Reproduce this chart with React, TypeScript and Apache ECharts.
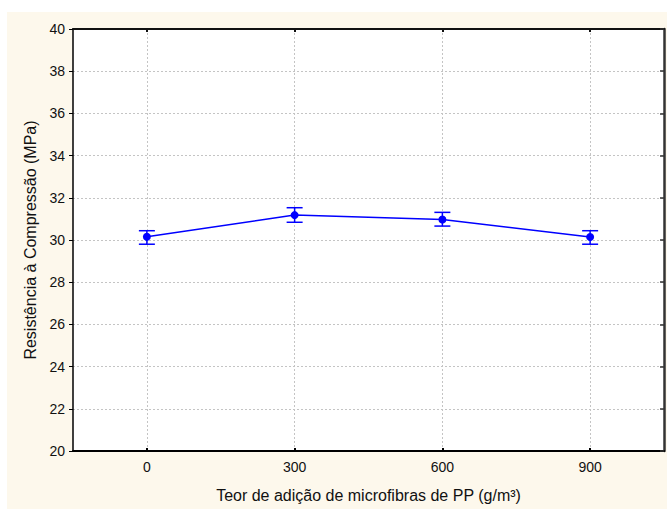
import React, { useEffect, useRef } from "react";
import * as echarts from "echarts";

const fiberContent = [0, 300, 600, 900];
const meanStrength = [30.15, 31.18, 30.97, 30.14];
const lowerBound = [29.8, 30.84, 30.66, 29.8];
const upperBound = [30.44, 31.53, 31.31, 30.44];

const xTitle = "Teor de adição de microfibras de PP (g/m³)";
const yTitle = "Resistência à Compressão (MPa)";

const FONT = "'Liberation Sans', Arial, sans-serif";
const BLUE = "#0000ff";

export default function App() {
  const ref = useRef<HTMLDivElement>(null);
  useEffect(() => {
    if (!ref.current) return;
    const chart = echarts.init(ref.current, undefined, { renderer: "svg" });
    const gridStyle = { show: true, lineStyle: { color: "#c4c4c4", width: 1, type: [2, 2] as any } };
    chart.setOption({
      animation: false,
      backgroundColor: "#ffffff",
      textStyle: { fontFamily: FONT },
      graphic: {
        elements: [
          {
            type: "rect",
            z: -100,
            silent: true,
            shape: { x: 7, y: 12, width: 660, height: 497 },
            style: { fill: "#fdf8ec" },
          },
        ],
      },
      grid: {
        left: 73,
        top: 29,
        right: 3,
        bottom: 58,
        show: true,
        backgroundColor: "#ffffff",
        borderWidth: 0,
      },
      xAxis: [
        {
          type: "value",
          position: "bottom",
          min: -150,
          max: 1050,
          name: xTitle,
          nameLocation: "middle",
          nameGap: 36,
          nameTextStyle: { fontSize: 16, color: "#111", fontFamily: FONT },
          axisLine: { show: true, onZero: false, lineStyle: { color: "#000", width: 2 } },
          axisTick: { show: true, inside: true, length: 3, customValues: fiberContent, lineStyle: { color: "#000", width: 2 } },
          axisLabel: { show: true, customValues: fiberContent, fontSize: 14, color: "#111", margin: 9, fontFamily: FONT },
          splitLine: gridStyle,
        },
        {
          type: "value",
          position: "top",
          min: -150,
          max: 1050,
          axisLine: { show: true, onZero: false, lineStyle: { color: "#111", width: 2 } },
          axisTick: { show: true, inside: true, length: 3, customValues: fiberContent, lineStyle: { color: "#111", width: 2 } },
          axisLabel: { show: false },
          splitLine: { show: false },
        },
      ],
      yAxis: [
        {
          type: "value",
          position: "left",
          min: 20,
          max: 40,
          interval: 2,
          name: yTitle,
          nameLocation: "middle",
          nameGap: 35,
          nameRotate: 90,
          nameTextStyle: { fontSize: 16, color: "#111", fontFamily: FONT },
          axisLine: { show: true, onZero: false, lineStyle: { color: "#000", width: 1.5 } },
          axisTick: { show: true, inside: false, length: 4, lineStyle: { color: "#000", width: 1 } },
          axisLabel: { show: true, fontSize: 14, color: "#111", margin: 8, fontFamily: FONT },
          splitLine: gridStyle,
        },
        {
          type: "value",
          position: "right",
          min: 20,
          max: 40,
          interval: 2,
          axisLine: { show: true, onZero: false, lineStyle: { color: "#333", width: 2.5 } },
          axisTick: { show: true, inside: true, length: 4, lineStyle: { color: "#333", width: 1.5 } },
          axisLabel: { show: false },
          splitLine: { show: false },
        },
      ],
      series: [
        {
          type: "line",
          xAxisIndex: 0,
          yAxisIndex: 0,
          data: fiberContent.map((x, i) => [x, meanStrength[i]]),
          symbol: "circle",
          symbolSize: 8,
          lineStyle: { color: BLUE, width: 1.5 },
          itemStyle: { color: BLUE },
          z: 3,
        },
        {
          type: "custom",
          xAxisIndex: 0,
          yAxisIndex: 0,
          data: fiberContent.map((x, i) => [x, lowerBound[i], upperBound[i]]),
          encode: { x: 0, y: [1, 2] },
          z: 2,
          renderItem: (params: any, api: any) => {
            const x = api.value(0);
            const lo = api.coord([x, api.value(1)]);
            const hi = api.coord([x, api.value(2)]);
            const half = 8;
            const style = { stroke: BLUE, lineWidth: 1.5 };
            return {
              type: "group",
              children: [
                { type: "line", shape: { x1: lo[0], y1: lo[1], x2: hi[0], y2: hi[1] }, style },
                { type: "line", shape: { x1: lo[0] - half, y1: lo[1], x2: lo[0] + half, y2: lo[1] }, style },
                { type: "line", shape: { x1: hi[0] - half, y1: hi[1], x2: hi[0] + half, y2: hi[1] }, style },
              ],
            };
          },
        },
      ],
    });
    return () => chart.dispose();
  }, []);
  return (
    <div
      ref={ref}
      style={{ position: "absolute", left: 0, top: 0, width: 667, height: 509 }}
    />
  );
}
